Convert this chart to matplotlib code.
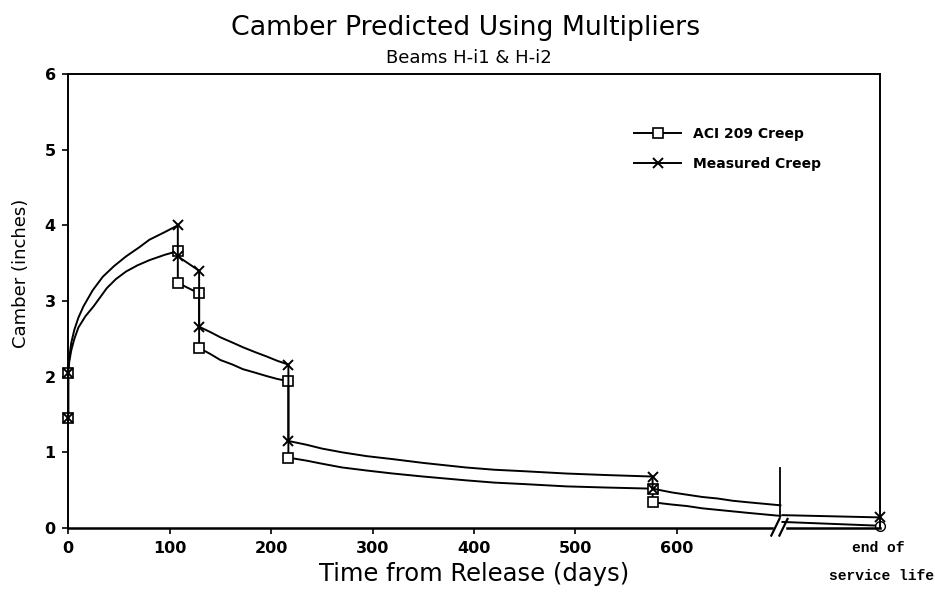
import matplotlib
matplotlib.use("Agg")
import matplotlib.pyplot as plt
import numpy as np

# measured creep camber (days from release, inches); vertical steps repeat a day
measured_days = [0, 0, 1, 3, 6, 10, 15, 24, 34, 45, 57, 70, 80, 95, 108,
                 108, 129, 129, 140, 150, 162, 172, 185, 195, 206, 217,
                 217, 235, 250, 270, 294, 320, 350, 392, 420, 450, 491, 530, 576,
                 576, 595, 610, 625, 640, 655, 670, 686, 702]
measured_camber = [1.45, 2.05, 2.25, 2.45, 2.62, 2.78, 2.93, 3.14, 3.32, 3.46, 3.59, 3.71, 3.81, 3.91, 4.00,
                   3.59, 3.40, 2.66, 2.59, 2.52, 2.45, 2.39, 2.32, 2.27, 2.21, 2.16,
                   1.15, 1.10, 1.05, 1.00, 0.95, 0.91, 0.86, 0.80, 0.77, 0.75, 0.72, 0.70, 0.68,
                   0.52, 0.47, 0.44, 0.41, 0.39, 0.36, 0.34, 0.32, 0.30]
measured_marks = [0, 1, 14, 15, 16, 17, 25, 26, 38, 39]

# ACI 209 creep camber
aci_days = [0, 0, 1, 3, 6, 10, 17, 25, 38, 47, 57, 68, 80, 95, 108,
            108, 129, 129, 140, 150, 162, 172, 185, 195, 206, 217,
            217, 235, 250, 270, 294, 320, 350, 392, 420, 450, 491, 530, 576,
            576, 595, 610, 625, 640, 655, 670, 686, 702]
aci_camber = [1.45, 2.05, 2.20, 2.35, 2.50, 2.65, 2.80, 2.93, 3.17, 3.29, 3.39, 3.47, 3.54, 3.61, 3.66,
              3.24, 3.10, 2.38, 2.30, 2.22, 2.16, 2.10, 2.05, 2.01, 1.97, 1.94,
              0.93, 0.89, 0.85, 0.80, 0.76, 0.72, 0.68, 0.63, 0.60, 0.58, 0.55, 0.535, 0.52,
              0.34, 0.31, 0.29, 0.26, 0.24, 0.22, 0.20, 0.18, 0.16]
aci_marks = [0, 1, 14, 15, 16, 17, 25, 26, 38, 39]

# after the axis break (end of service life drawn at 800)
end_days = [704, 800]
measured_end = [0.17, 0.14]
aci_end = [0.08, 0.03]

x_ticks = [0, 100, 200, 300, 400, 500, 600]
y_ticks = [0, 1, 2, 3, 4, 5, 6]
BREAK_DAY = 702
END_DAY = 800

fig = plt.figure(figsize=(9.35, 5.95), dpi=100, facecolor="white")
ax = fig.add_axes([0.073, 0.1126, 0.868, 0.763])

line_kw = dict(color="black", linewidth=1.4, clip_on=False)
ax.plot(aci_days, aci_camber, marker="s", markevery=aci_marks, markersize=6.5,
        markerfacecolor="white", markeredgecolor="black", markeredgewidth=1.2,
        label="ACI 209 Creep", **line_kw)
ax.plot(measured_days, measured_camber, marker="x", markevery=measured_marks, markersize=7.5,
        markeredgewidth=1.4, label="Measured Creep", **line_kw)
ax.plot(end_days, aci_end, marker="o", markevery=[1], markersize=7,
        markerfacecolor="white", markeredgecolor="black", **line_kw)
ax.plot(end_days, measured_end, marker="x", markevery=[1], markersize=7.5,
        markeredgewidth=1.4, **line_kw)

# break separator line
ax.plot([BREAK_DAY, BREAK_DAY], [0.15, 0.79], color="black", linewidth=1.3)

ax.set_xlim(0, END_DAY)
ax.set_ylim(0, 6)
ax.set_xticks(x_ticks)
ax.set_yticks(y_ticks)
ax.tick_params(direction="out", length=4, width=1.2, labelsize=11.5, pad=5)
for label in ax.get_xticklabels() + ax.get_yticklabels():
    label.set_fontweight("bold")

for side in ("top", "right", "left"):
    ax.spines[side].set_linewidth(1.4)
ax.spines["bottom"].set_visible(False)

# broken x axis with // marks
ax.plot([0, 694], [0, 0], color="black", linewidth=1.8, clip_on=False)
ax.plot([708, END_DAY], [0, 0], color="black", linewidth=1.8, clip_on=False)
for center in (697, 705):
    ax.plot([center - 4, center + 4], [-0.1, 0.12], color="black", linewidth=1.6,
            clip_on=False)

ax.text(END_DAY - 2, -0.27, "end of", ha="center", va="center",
        family="Liberation Mono", fontweight="bold", fontsize=10.5)
ax.text(END_DAY + 2, -0.63, "service life", ha="center", va="center",
        family="Liberation Mono", fontweight="bold", fontsize=10.5)

ax.set_xlabel("Time from Release (days)", fontsize=17.5, labelpad=5)
ax.set_ylabel("Camber (inches)", fontsize=13, labelpad=8)
ax.yaxis.set_label_coords(-0.047, 0.56)

fig.text(0.498, 0.953, "Camber Predicted Using Multipliers", ha="center", va="center",
         fontsize=19.3)
fig.text(0.502, 0.902, "Beams H-i1 & H-i2", ha="center", va="center", fontsize=13)

ax.legend(loc="upper left", bbox_to_anchor=(0.665, 0.808), bbox_transform=fig.transFigure,
          frameon=False, handlelength=3.4, handletextpad=0.8, labelspacing=1.15,
          prop={"weight": "bold", "size": 10})

fig.savefig("out.png", dpi=100, facecolor="white")
